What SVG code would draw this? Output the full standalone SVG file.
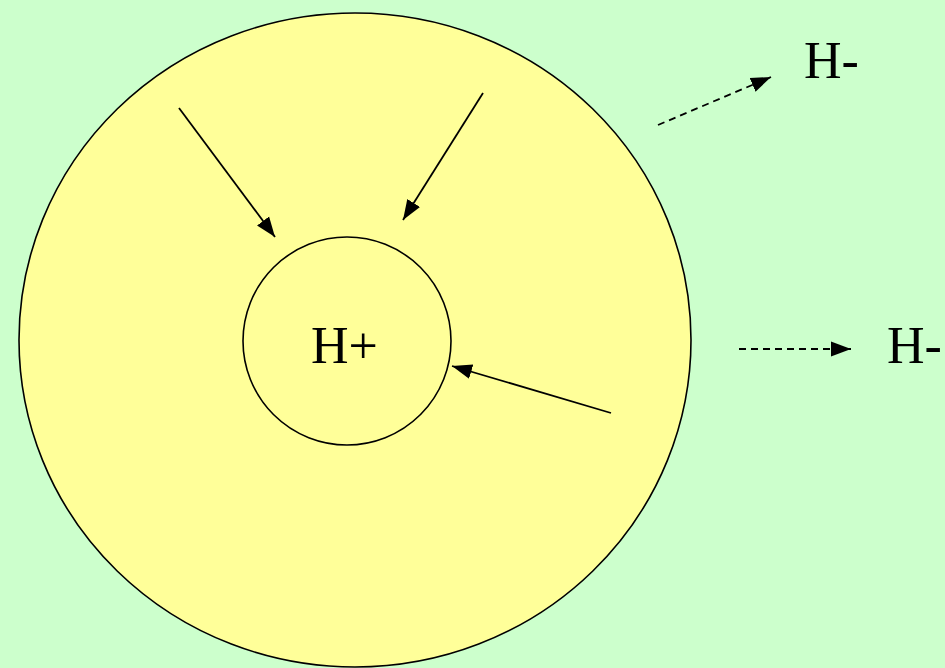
<svg xmlns="http://www.w3.org/2000/svg" width="945" height="668" viewBox="0 0 945 668">
<defs>
<marker id="ah" markerUnits="userSpaceOnUse" markerWidth="22" markerHeight="18" viewBox="0 0 22 18" refX="20" refY="9" orient="auto">
<path d="M0,1.5 L20,9 L0,16.5 Z" fill="#000"/>
</marker>
</defs>
<style>
.t{font-family:"Liberation Serif","Times New Roman",serif;font-size:52px;fill:#000}
.c{stroke:#000;stroke-width:1.6}
.a{stroke:#000;stroke-width:1.8;fill:none;marker-end:url(#ah)}
.d{stroke-dasharray:7 5}
</style>
<rect width="945" height="668" fill="#CCFFCC"/>
<g id="outer"><ellipse class="c" cx="355" cy="340" rx="336" ry="327" fill="#FFFF99"/></g>
<g id="inner"><circle class="c" cx="347" cy="341" r="104" fill="#FFFF99"/><text class="t" x="311" y="363">H+</text></g>
<g id="hminus1"><text class="t" x="804" y="78">H-</text></g>
<g id="hminus2"><text class="t" x="887" y="363">H-</text></g>
<g id="connectors">
<line class="a" x1="179" y1="108" x2="275" y2="237"/>
<line class="a" x1="483" y1="93" x2="403" y2="220"/>
<line class="a" x1="611" y1="413" x2="452" y2="366"/>
<line class="a d" x1="658" y1="125" x2="771" y2="77"/>
<line class="a d" x1="739" y1="349" x2="851" y2="349"/>
</g>
</svg>
